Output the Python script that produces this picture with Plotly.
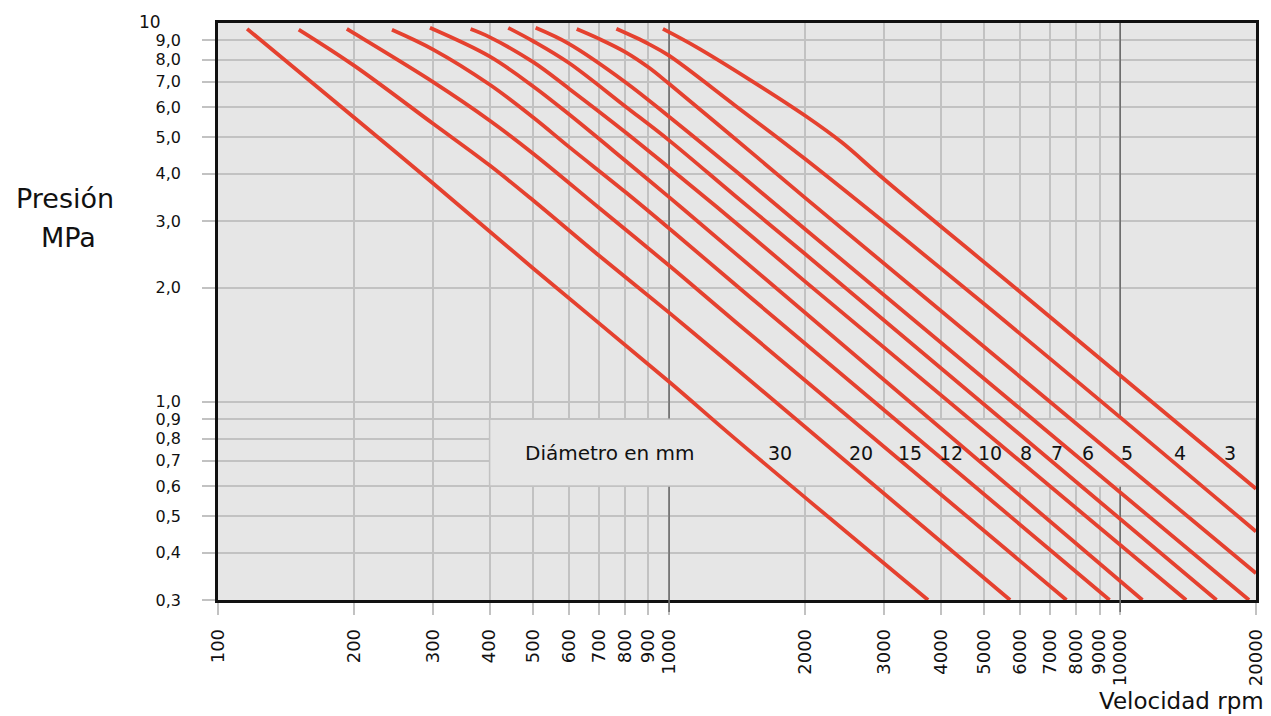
import math
import plotly.graph_objects as go

# ---------------- data ----------------
diameters = ["30", "20", "15", "12", "10", "8", "7", "6", "5", "4", "3"]

rpm_d30 = [116, 200, 300, 500, 1000, 1400, 3750]
mpa_d30 = [9.65, 5.64, 3.77, 2.25, 1.13, 0.80, 0.30]

rpm_d20 = [151, 200, 300, 400, 500, 700, 1000, 1400, 5700]
mpa_d20 = [9.61, 7.73, 5.42, 4.21, 3.40, 2.43, 1.72, 1.23, 0.30]

rpm_d15 = [193, 200, 300, 400, 500, 700, 1000, 1400, 7600]
mpa_d15 = [9.65, 9.40, 6.98, 5.53, 4.52, 3.25, 2.29, 1.63, 0.30]

rpm_d12 = [243, 300, 400, 500, 600, 800, 1000, 1520, 9470]
mpa_d12 = [9.60, 8.51, 6.88, 5.63, 4.71, 3.58, 2.87, 1.88, 0.30]

rpm_d10 = [295, 400, 500, 600, 800, 1000, 1400, 11200]
mpa_d10 = [9.71, 8.16, 6.80, 5.74, 4.33, 3.47, 2.47, 0.30]

rpm_d8 = [363, 400, 500, 600, 800, 1000, 1400, 2000, 14000]
mpa_d8 = [9.64, 9.18, 7.88, 6.71, 5.15, 4.15, 2.98, 2.08, 0.30]

rpm_d7 = [440, 500, 600, 800, 1000, 1400, 2000, 16350]
mpa_d7 = [9.71, 8.95, 7.84, 6.02, 4.90, 3.50, 2.46, 0.30]

rpm_d6 = [506, 600, 800, 1000, 1400, 2000, 19300]
mpa_d6 = [9.71, 8.81, 6.98, 5.66, 4.08, 2.86, 0.30]

rpm_d5 = [624, 700, 800, 900, 1000, 1400, 2000, 20000]
mpa_d5 = [9.64, 9.08, 8.38, 7.64, 6.91, 4.95, 3.46, 0.353]

rpm_d4 = [764, 900, 1000, 1400, 2000, 4880, 20000]
mpa_d4 = [9.65, 8.81, 8.20, 6.06, 4.38, 1.854, 0.455]

rpm_d3 = [969, 1150, 1520, 2000, 2410, 3020, 6000, 20000]
mpa_d3 = [9.65, 8.64, 7.05, 5.70, 4.85, 3.84, 1.95, 0.59]

x_tickvals = [100, 200, 300, 400, 500, 600, 700, 800, 900, 1000,
              2000, 3000, 4000, 5000, 6000, 7000, 8000, 9000, 10000, 20000]
x_ticktext = ["100", "200", "300", "400", "500", "600", "700", "800", "900", "1000",
              "2000", "3000", "4000", "5000", "6000", "7000", "8000", "9000", "10000", "20000"]

y_tickvals = [0.3, 0.4, 0.5, 0.6, 0.7, 0.8, 0.9, 1, 2, 3, 4, 5, 6, 7, 8, 9]
y_ticktext = ["0,3", "0,4", "0,5", "0,6", "0,7", "0,8", "0,9", "1,0",
              "2,0", "3,0", "4,0", "5,0", "6,0", "7,0", "8,0", "9,0"]

decade_lines = [1000, 10000]
box_x = [400, 20000]
box_y = [0.6, 0.9]

label_box_text = "Diámetro en mm"
x_title = "Velocidad rpm"
y_title_1 = "Presión"
y_title_2 = "MPa"
y_top_label = "10"

# ---------------- styling ----------------
# the page body has an 8 px default margin: the figure is drawn 8 px in from the corner
OFF = 8
WIN_W, WIN_H = 1271, 716
W, H = WIN_W - OFF, WIN_H - OFF
# plot area in screen pixels
L, R, T, B = 218, 1256, 23, 600
FONT = "DejaVu Sans"
TXT = "#111111"
RED = "#e5412f"
GRID = "#c2c2c2"
DARK = "#6e6e6e"
BG = "#e6e6e6"


def px(xp):
    return (xp - L) / (R - L)


def py(yp):
    return (B - yp) / (B - T)


try:
    go.layout.Shape(layer="between")
    MID_LAYER = "between"
except Exception:
    MID_LAYER = None

fig = go.Figure()

# decade lines + label box, between grid and curves
if MID_LAYER:
    for xv in decade_lines:
        fig.add_shape(type="line", xref="x", yref="y", x0=xv, x1=xv, y0=0.3, y1=10,
                      line=dict(color=DARK, width=1.6), layer=MID_LAYER)
    fig.add_shape(type="rect", xref="x", yref="y", x0=box_x[0], x1=box_x[1],
                  y0=box_y[0], y1=box_y[1], fillcolor=BG,
                  line=dict(color=GRID, width=1.5), layer=MID_LAYER)
else:
    for xv in decade_lines:
        fig.add_trace(go.Scatter(x=[xv, xv], y=[0.3, 10], mode="lines",
                                 line=dict(color=DARK, width=1.6),
                                 showlegend=False, hoverinfo="skip"))
    fig.add_trace(go.Scatter(x=[box_x[0], box_x[1], box_x[1], box_x[0], box_x[0]],
                             y=[box_y[0], box_y[0], box_y[1], box_y[1], box_y[0]],
                             mode="lines", fill="toself", fillcolor=BG,
                             line=dict(color=GRID, width=1.5),
                             showlegend=False, hoverinfo="skip"))

for xv in decade_lines:
    fig.add_shape(type="line", xref="x", yref="paper", x0=xv, x1=xv,
                  y0=-12 / (B - T), y1=0, line=dict(color=DARK, width=1.6), layer="above")

series = [
    (rpm_d30, mpa_d30), (rpm_d20, mpa_d20), (rpm_d15, mpa_d15), (rpm_d12, mpa_d12),
    (rpm_d10, mpa_d10), (rpm_d8, mpa_d8), (rpm_d7, mpa_d7), (rpm_d6, mpa_d6),
    (rpm_d5, mpa_d5), (rpm_d4, mpa_d4), (rpm_d3, mpa_d3),
]
for name, (xs, ys) in zip(diameters, series):
    fig.add_trace(go.Scatter(
        x=xs, y=ys, mode="lines", name=name + " mm",
        line=dict(color=RED, width=3.8, shape="spline", smoothing=1.0),
        showlegend=False, hoverinfo="x+y+name",
    ))

annotations = []
annotations.append(dict(text=label_box_text, xref="paper", yref="paper",
                        x=px(610), y=py(453), xanchor="center", yanchor="middle",
                        showarrow=False, font=dict(family=FONT, size=20, color=TXT)))
label_px = [780, 861, 910, 951, 990, 1026, 1057, 1088, 1127, 1180, 1230]
for t, xp in zip(diameters, label_px):
    annotations.append(dict(text=t, xref="paper", yref="paper", x=px(xp), y=py(453),
                            xanchor="center", yanchor="middle", showarrow=False,
                            font=dict(family=FONT, size=19, color=TXT)))
annotations.append(dict(text=y_top_label, xref="paper", yref="paper", x=px(163), y=py(22),
                        xanchor="right", yanchor="middle", showarrow=False,
                        font=dict(family=FONT, size=17, color=TXT)))
annotations.append(dict(text=y_title_1, xref="paper", yref="paper", x=px(65), y=py(198),
                        xanchor="center", yanchor="middle", showarrow=False,
                        font=dict(family=FONT, size=27, color=TXT)))
annotations.append(dict(text=y_title_2, xref="paper", yref="paper", x=px(68), y=py(237),
                        xanchor="center", yanchor="middle", showarrow=False,
                        font=dict(family=FONT, size=27, color=TXT)))
annotations.append(dict(text=x_title, xref="paper", yref="paper", x=px(1266), y=py(701),
                        xanchor="right", yanchor="middle", showarrow=False,
                        font=dict(family=FONT, size=23, color=TXT)))

fig.update_layout(
    width=W, height=H,
    margin=dict(l=L - OFF, r=W - (R - OFF), t=T - OFF, b=H - (B - OFF), pad=0,
                autoexpand=False),
    paper_bgcolor="white", plot_bgcolor=BG,
    annotations=annotations,
    showlegend=False,
)
fig.update_xaxes(
    type="log", range=[2, math.log10(20000)], automargin=False,
    tickmode="array", tickvals=x_tickvals, ticktext=x_ticktext,
    tickangle=-90, tickfont=dict(family=FONT, size=18, color=TXT),
    showgrid=True, gridcolor=GRID, gridwidth=1.5,
    ticks="outside", ticklen=12, tickwidth=1.5, tickcolor=GRID,
    ticklabelstandoff=7,
    showline=True, linecolor="#111", linewidth=2.5, mirror=True,
    zeroline=False,
)
fig.update_yaxes(
    type="log", range=[math.log10(0.3), 1], automargin=False,
    tickmode="array", tickvals=y_tickvals, ticktext=y_ticktext,
    tickfont=dict(family=FONT, size=16, color=TXT),
    showgrid=True, gridcolor=GRID, gridwidth=1.5,
    ticks="outside", ticklen=13, tickwidth=1.5, tickcolor=GRID,
    ticklabelstandoff=18,
    showline=True, linecolor="#111", linewidth=2.5, mirror=True,
    zeroline=False,
)

fig.write_html("out.html")
